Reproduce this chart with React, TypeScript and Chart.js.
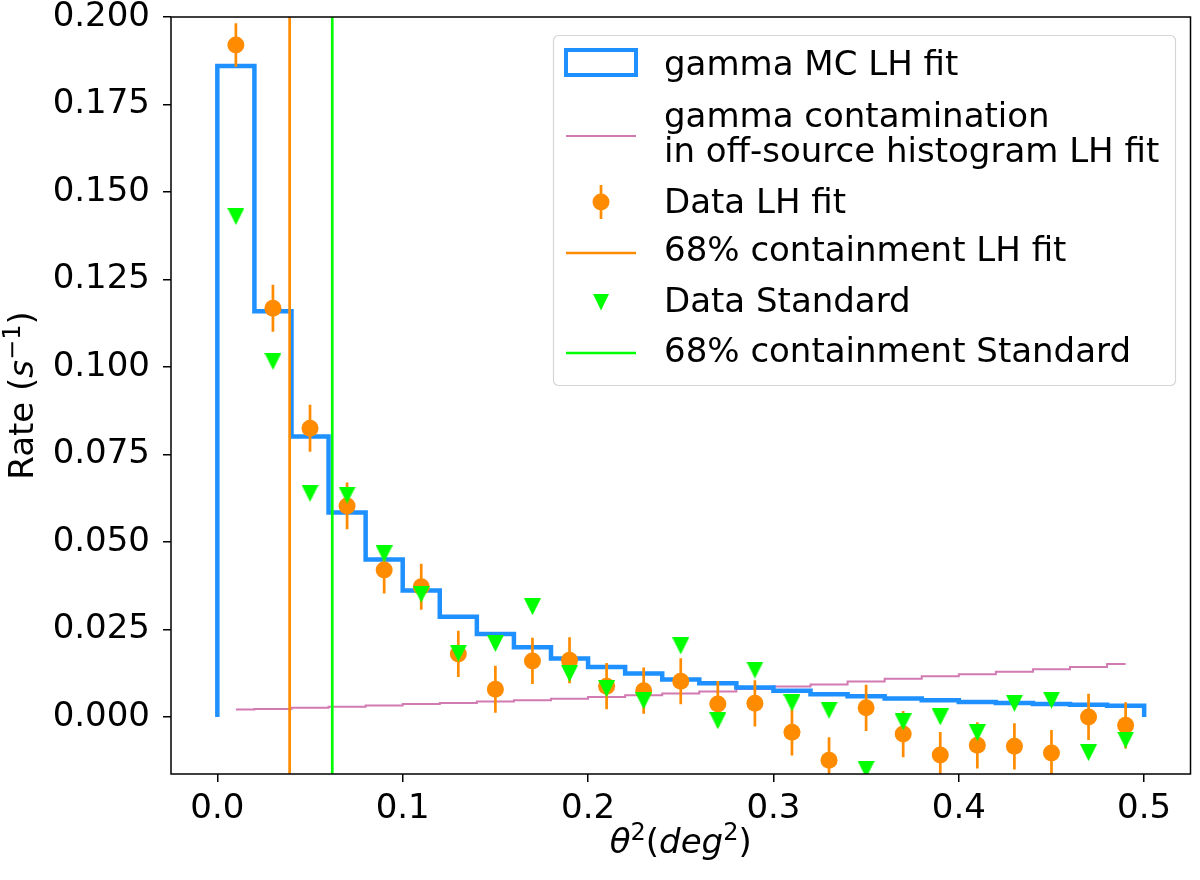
import React, { useEffect, useRef } from "react";
import { Chart, registerables, Plugin } from "chart.js";

Chart.register(...registerables);

const binCenters = [
  0.01, 0.03, 0.05, 0.07, 0.09, 0.11, 0.13, 0.15, 0.17, 0.19, 0.21, 0.23, 0.25,
  0.27, 0.29, 0.31, 0.33, 0.35, 0.37, 0.39, 0.41, 0.43, 0.45, 0.47, 0.49,
];
const binEdges = [
  0.0, 0.02, 0.04, 0.06, 0.08, 0.1, 0.12, 0.14, 0.16, 0.18, 0.2, 0.22, 0.24,
  0.26, 0.28, 0.3, 0.32, 0.34, 0.36, 0.38, 0.4, 0.42, 0.44, 0.46, 0.48, 0.5,
];
const gammaMC = [
  0.186, 0.1159, 0.0801, 0.0584, 0.045, 0.0361, 0.0286, 0.0237, 0.0199, 0.0167,
  0.0143, 0.0124, 0.0107, 0.0096, 0.0084, 0.0075, 0.0065, 0.0059, 0.0053,
  0.0048, 0.0043, 0.004, 0.0037, 0.0035, 0.0032,
];
const contamination = [
  0.0021, 0.0023, 0.0026, 0.0029, 0.0033, 0.0037, 0.004, 0.0044, 0.0048,
  0.0052, 0.0057, 0.0062, 0.0067, 0.0073, 0.008, 0.0087, 0.0093, 0.0101,
  0.0109, 0.0116, 0.0122, 0.0129, 0.0136, 0.0143, 0.0151,
];
const dataLH = [
  0.192, 0.1168, 0.0825, 0.0603, 0.042, 0.0372, 0.018, 0.0079, 0.016, 0.0162,
  0.0088, 0.0075, 0.0102, 0.0037, 0.0039, -0.0044, -0.0124, 0.0026, -0.0049,
  -0.0109, -0.0081, -0.0084, -0.0103, 0.0, -0.0024,
];
const dataLHErr = [
  0.0062, 0.0067, 0.0067, 0.0067, 0.0067, 0.0066, 0.0066, 0.0067, 0.0066,
  0.0066, 0.0066, 0.0066, 0.0066, 0.0066, 0.0066, 0.0066, 0.0066, 0.0066,
  0.0066, 0.0066, 0.0066, 0.0066, 0.0066, 0.0066, 0.0066,
];
const dataStd = [
  0.143, 0.1016, 0.0639, 0.0634, 0.0466, 0.0351, 0.0182, 0.021, 0.0315, 0.0124,
  0.0081, 0.0046, 0.0203, -0.0011, 0.0134, 0.004, 0.0019, -0.015, -0.0014, 0.0,
  -0.0045, 0.0039, 0.0048, -0.0102, -0.0066,
];
const containmentLH = 0.039;
const containmentStd = 0.062;
const xTicks = [0.0, 0.1, 0.2, 0.3, 0.4, 0.5];
const yTicks = [0.0, 0.025, 0.05, 0.075, 0.1, 0.125, 0.15, 0.175, 0.2];

const legendLabels = [
  "gamma MC LH fit",
  "gamma contamination",
  "in off-source histogram LH fit",
  "Data LH fit",
  "68% containment LH fit",
  "Data Standard",
  "68% containment Standard",
];

const BLUE = "#1E90FF";
const PINK = "#D27AB2";
const ORANGE = "#FF8C00";
const GREEN = "#00FF00";
const FONT = "'DejaVu Sans'";
const FS = 34;

type Seg = { t: string; italic?: boolean; sup?: boolean };

function drawRich(ctx: CanvasRenderingContext2D, segs: Seg[], cx: number, baseY: number) {
  const fontOf = (s: Seg) =>
    `${s.italic ? "italic " : ""}${s.sup ? Math.round(FS * 0.7) : FS}px ${FONT}`;
  let total = 0;
  const widths = segs.map((s) => {
    ctx.font = fontOf(s);
    const w = ctx.measureText(s.t).width;
    total += w;
    return w;
  });
  let x = cx - total / 2;
  ctx.textAlign = "left";
  ctx.textBaseline = "alphabetic";
  ctx.fillStyle = "#000";
  segs.forEach((s, i) => {
    ctx.font = fontOf(s);
    ctx.fillText(s.t, x, s.sup ? baseY - FS * 0.38 : baseY);
    x += widths[i];
  });
}

const errorBarPlugin: Plugin<"line"> = {
  id: "errorBars",
  beforeDatasetDraw(chart, args) {
    if (args.index !== 4) return;
    const { ctx, chartArea, scales } = chart;
    ctx.save();
    ctx.beginPath();
    ctx.rect(chartArea.left, chartArea.top, chartArea.right - chartArea.left, chartArea.bottom - chartArea.top);
    ctx.clip();
    ctx.strokeStyle = ORANGE;
    ctx.lineWidth = 2.7;
    binCenters.forEach((xv, i) => {
      const px = scales.x.getPixelForValue(xv);
      ctx.beginPath();
      ctx.moveTo(px, scales.y.getPixelForValue(dataLH[i] - dataLHErr[i]));
      ctx.lineTo(px, scales.y.getPixelForValue(dataLH[i] + dataLHErr[i]));
      ctx.stroke();
    });
    ctx.restore();
  },
};

const framePlugin: Plugin<"line"> = {
  id: "frame",
  afterDatasetsDraw(chart) {
    const { ctx, chartArea: a } = chart;
    ctx.save();
    ctx.strokeStyle = "#000";
    ctx.lineWidth = 1.5;
    ctx.strokeRect(a.left, a.top, a.right - a.left, a.bottom - a.top);
    ctx.restore();
  },
  afterDraw(chart) {
    const { ctx, chartArea: a } = chart;
    ctx.save();
    // axis titles
    drawRich(
      ctx,
      [{ t: "θ", italic: true }, { t: "2", sup: true }, { t: "(" }, { t: "deg", italic: true }, { t: "2", sup: true }, { t: ")" }],
      (a.left + a.right) / 2,
      853,
    );
    ctx.save();
    ctx.translate(33, (a.top + a.bottom) / 2);
    ctx.rotate(-Math.PI / 2);
    drawRich(ctx, [{ t: "Rate (" }, { t: "s", italic: true }, { t: "−1", sup: true }, { t: ")" }], 0, 0);
    ctx.restore();

    // legend
    const lx = 553.5;
    const ly = 35.5;
    const lw = 622;
    const lh = 350;
    ctx.beginPath();
    ctx.roundRect(lx, ly, lw, lh, 5);
    ctx.fillStyle = "rgba(255,255,255,0.8)";
    ctx.fill();
    ctx.strokeStyle = "rgba(204,204,204,0.8)";
    ctx.lineWidth = 1.2;
    ctx.stroke();

    const hx0 = 566;
    const hx1 = 636;
    const hc = 601;
    const tx = 664;
    ctx.font = `${FS}px ${FONT}`;
    ctx.fillStyle = "#000";
    ctx.textAlign = "left";
    ctx.textBaseline = "alphabetic";

    // row 1: histogram box
    ctx.strokeStyle = BLUE;
    ctx.lineWidth = 4;
    ctx.strokeRect(hx0, 50, hx1 - hx0, 25);
    ctx.fillText(legendLabels[0], tx, 75);
    // row 2: contamination line
    ctx.strokeStyle = PINK;
    ctx.lineWidth = 2;
    ctx.beginPath();
    ctx.moveTo(hx0, 136);
    ctx.lineTo(hx1, 136);
    ctx.stroke();
    ctx.fillText(legendLabels[1], tx, 127);
    ctx.fillText(legendLabels[2], tx, 162);
    // row 3: data LH
    ctx.strokeStyle = ORANGE;
    ctx.lineWidth = 2.7;
    ctx.beginPath();
    ctx.moveTo(hc, 185);
    ctx.lineTo(hc, 219);
    ctx.stroke();
    ctx.fillStyle = ORANGE;
    ctx.beginPath();
    ctx.arc(hc, 202, 8.5, 0, Math.PI * 2);
    ctx.fill();
    ctx.fillStyle = "#000";
    ctx.fillText(legendLabels[3], tx, 213);
    // row 4: containment LH
    ctx.beginPath();
    ctx.moveTo(hx0, 253);
    ctx.lineTo(hx1, 253);
    ctx.stroke();
    ctx.fillText(legendLabels[4], tx, 261);
    // row 5: data standard
    ctx.fillStyle = GREEN;
    ctx.beginPath();
    ctx.moveTo(hc - 8, 294);
    ctx.lineTo(hc + 8, 294);
    ctx.lineTo(hc, 310.5);
    ctx.closePath();
    ctx.fill();
    ctx.fillStyle = "#000";
    ctx.fillText(legendLabels[5], tx, 312);
    // row 6: containment standard
    ctx.strokeStyle = GREEN;
    ctx.lineWidth = 2.7;
    ctx.beginPath();
    ctx.moveTo(hx0, 353);
    ctx.lineTo(hx1, 353);
    ctx.stroke();
    ctx.fillText(legendLabels[6], tx, 362);
    ctx.restore();
  },
};

const App: React.FC = () => {
  const canvasRef = useRef<HTMLCanvasElement | null>(null);

  useEffect(() => {
    if (!canvasRef.current) return;

    const tri = document.createElement("canvas");
    tri.width = 17;
    tri.height = 17;
    const tc = tri.getContext("2d");
    if (tc) {
      tc.fillStyle = GREEN;
      tc.beginPath();
      tc.moveTo(0, 0);
      tc.lineTo(17, 0);
      tc.lineTo(8.5, 17);
      tc.closePath();
      tc.fill();
    }

    const histPoints = [
      { x: binEdges[0], y: 0 },
      ...gammaMC.map((v, i) => ({ x: binEdges[i], y: v })),
      { x: binEdges[binEdges.length - 1], y: gammaMC[gammaMC.length - 1] },
      { x: binEdges[binEdges.length - 1], y: 0 },
    ];

    const tickFont = { family: FONT, size: FS };

    const chart = new Chart(canvasRef.current, {
      type: "line",
      data: {
        datasets: [
          {
            label: "gamma MC LH fit",
            data: histPoints,
            stepped: "before",
            borderColor: BLUE,
            borderWidth: 4.5,
            borderJoinStyle: "miter",
            pointRadius: 0,
            fill: false,
            order: 5,
          },
          {
            label: "gamma contamination",
            data: binCenters.map((x, i) => ({ x, y: contamination[i] })),
            stepped: "middle",
            borderColor: PINK,
            borderWidth: 2,
            pointRadius: 0,
            fill: false,
            order: 6,
          },
          {
            label: "68% containment LH fit",
            data: [
              { x: containmentLH, y: -1 },
              { x: containmentLH, y: 1 },
            ],
            borderColor: ORANGE,
            borderWidth: 2.7,
            pointRadius: 0,
            order: 4,
          },
          {
            label: "68% containment Standard",
            data: [
              { x: containmentStd, y: -1 },
              { x: containmentStd, y: 1 },
            ],
            borderColor: GREEN,
            borderWidth: 2.7,
            pointRadius: 0,
            order: 3,
          },
          {
            label: "Data LH fit",
            data: binCenters.map((x, i) => ({ x, y: dataLH[i] })),
            showLine: false,
            pointRadius: 8.5,
            pointBackgroundColor: ORANGE,
            pointBorderWidth: 0,
            clip: 0,
            order: 2,
          },
          {
            label: "Data Standard",
            data: binCenters.map((x, i) => ({ x, y: dataStd[i] })),
            showLine: false,
            pointStyle: tri,
            pointRadius: 8.5,
            clip: 0,
            order: 1,
          },
        ],
      },
      options: {
        animation: false,
        responsive: true,
        maintainAspectRatio: false,
        layout: { padding: { top: 17, right: 7, left: 0, bottom: 0 } },
        plugins: {
          legend: { display: false },
          tooltip: { enabled: false },
        },
        scales: {
          x: {
            type: "linear",
            min: -0.025,
            max: 0.525,
            afterBuildTicks: (s) => {
              s.ticks = xTicks.map((v) => ({ value: v }));
            },
            afterFit: (s) => {
              s.height = 106;
              s.paddingLeft = 0;
              s.paddingRight = 0;
            },
            ticks: {
              callback: (v) => Number(v).toFixed(1),
              font: tickFont,
              color: "#000",
              padding: 7,
              maxRotation: 0,
              autoSkip: false,
            },
            grid: {
              drawOnChartArea: false,
              drawTicks: true,
              tickLength: 8,
              color: "#000",
              lineWidth: 1.5,
            },
            border: { display: false },
          },
          y: {
            type: "linear",
            min: -0.0163,
            max: 0.2,
            afterBuildTicks: (s) => {
              s.ticks = yTicks.map((v) => ({ value: v }));
            },
            afterFit: (s) => {
              s.width = 171;
              s.paddingTop = 0;
              s.paddingBottom = 0;
            },
            ticks: {
              callback: (v) => Number(v).toFixed(3),
              font: tickFont,
              color: "#000",
              padding: 13,
              autoSkip: false,
            },
            grid: {
              drawOnChartArea: false,
              drawTicks: true,
              tickLength: 8,
              color: "#000",
              lineWidth: 1.5,
            },
            border: { display: false },
          },
        },
      },
      plugins: [errorBarPlugin, framePlugin],
    });

    return () => {
      chart.destroy();
    };
  }, []);

  return (
    <div
      style={{
        position: "absolute",
        left: 0,
        top: 0,
        width: 1200,
        height: 880,
        background: "#fff",
      }}
    >
      <canvas ref={canvasRef} />
    </div>
  );
};

export default App;
